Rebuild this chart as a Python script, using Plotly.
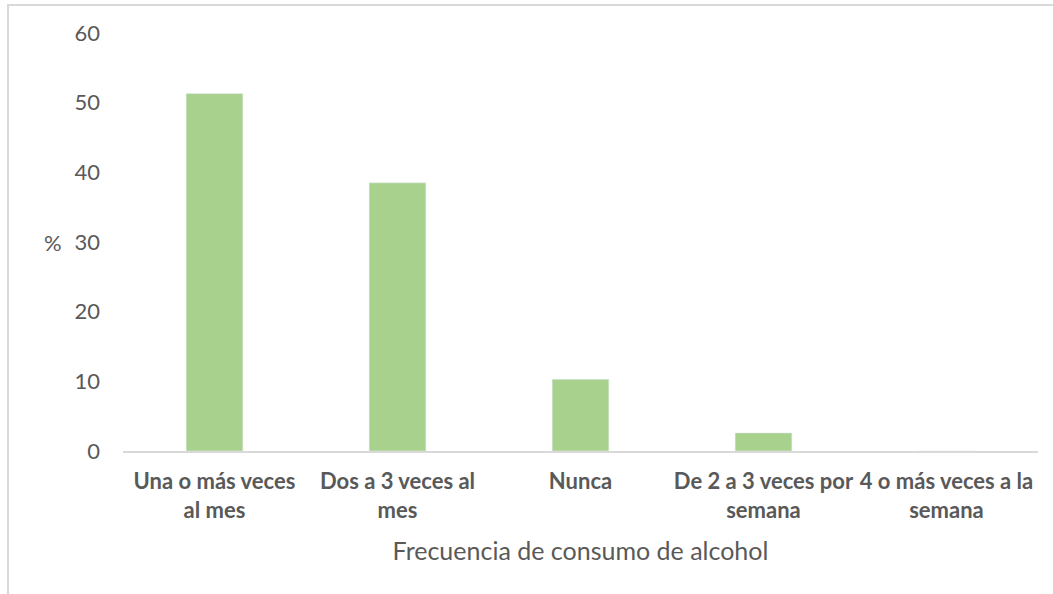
import plotly.graph_objects as go

categorias = [
    "Una o más veces<br>al mes",
    "Dos a 3 veces al<br>mes",
    "Nunca",
    "De 2 a 3 veces por<br>semana",
    "4 o más veces a la<br>semana",
]
porcentajes = [51.3, 38.5, 10.3, 2.6, 0]
ticks_y = [0, 10, 20, 30, 40, 50, 60]

fig = go.Figure(
    go.Bar(x=categorias, y=porcentajes, marker_color="#a9d18e", width=0.31)
)

fig.update_layout(
    width=1053,
    height=594,
    margin=dict(l=123, r=15, t=33, b=143),
    paper_bgcolor="white",
    plot_bgcolor="white",
    font=dict(family="Lato", color="#595959"),
    showlegend=False,
)

fig.update_xaxes(
    showline=True,
    linecolor="#d9d9d9",
    linewidth=2,
    tickangle=0,
    tickfont=dict(size=22, family="Lato", weight="bold"),
    ticks="",
    ticklabelstandoff=10,
    title=dict(text="Frecuencia de consumo de alcohol", font=dict(size=25), standoff=20),
)
fig.update_yaxes(
    range=[0, 60],
    tickvals=ticks_y,
    showgrid=False,
    zeroline=False,
    tickfont=dict(size=22),
    ticklabelstandoff=22,
)

fig.add_annotation(
    text="%", xref="paper", yref="paper", x=-0.0765, y=0.498,
    showarrow=False, font=dict(size=22, color="#595959"), xanchor="center",
)

# marco del gráfico
fig.add_shape(
    type="rect", xref="paper", yref="paper",
    x0=-0.1257, x1=1.05, y0=-0.5, y1=1.067,
    line=dict(color="#d9d9d9", width=2),
)

fig.write_html(
    "out.html",
    config={"displayModeBar": False},
    post_script="document.body.style.margin='0';",
)
